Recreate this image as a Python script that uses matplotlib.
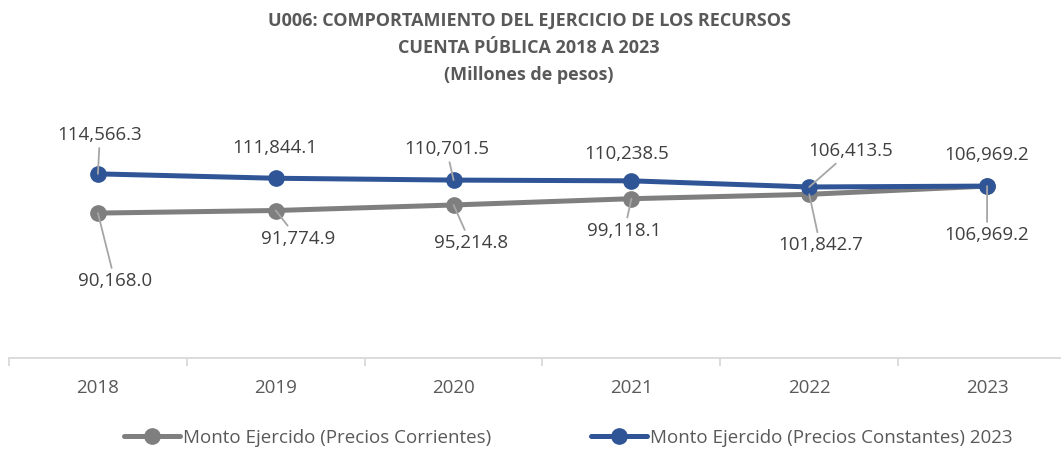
import matplotlib
matplotlib.use("Agg")
import matplotlib.pyplot as plt

years = ["2018", "2019", "2020", "2021", "2022", "2023"]
corrientes = [90168.0, 91774.9, 95214.8, 99118.1, 101842.7, 106969.2]
constantes = [114566.3, 111844.1, 110701.5, 110238.5, 106413.5, 106969.2]
name_corr = "Monto Ejercido (Precios Corrientes)"
name_const = "Monto Ejercido (Precios Constantes) 2023"
title = "U006: COMPORTAMIENTO DEL EJERCICIO DE LOS RECURSOS\nCUENTA PÚBLICA 2018 A 2023\n(Millones de pesos)"

# label offsets in pixels (dx, dy) and whether to draw a leader line
off_const = [(2, 39, True), (-1, 30, False), (-7, 31, True), (-5, 27, False), (41, 36, True), (0, 31, False)]
off_corr = [(17, -68, True), (22, -28, True), (17, -38, True), (-7, -32, True), (11, -51, True), (0, -49, True)]

plt.rcParams['font.family'] = ['Open Sans', 'DejaVu Sans']
BLUE = "#2F5597"
GRAY = "#7F7F7F"
TXT = "#404040"

fig = plt.figure(figsize=(10.61, 4.5), dpi=100)
ax = fig.add_axes([9/1061, 92/450, 1067/1061, 225/450])
x = list(range(len(years)))
ax.plot(x, corrientes, color=GRAY, lw=3.6, marker='o', ms=11, label=name_corr, solid_capstyle='round', zorder=3)
ax.plot(x, constantes, color=BLUE, lw=3.6, marker='o', ms=11, label=name_const, solid_capstyle='round', zorder=4)
ax.set_xlim(-0.5, len(years) - 0.5)
ax.set_ylim(0, 140000)
for s in ['top', 'right', 'left']:
    ax.spines[s].set_visible(False)
ax.spines['bottom'].set_color('#D9D9D9')
ax.spines['bottom'].set_linewidth(1.3)
ax.set_yticks([])
ax.set_xticks(x)
ax.set_xticklabels(years)
ax.tick_params(axis='x', which='major', length=0, pad=15, labelsize=13.5, labelcolor='#595959')
ax.set_xticks([i + 0.5 for i in range(-1, len(years))], minor=True)
ax.tick_params(axis='x', which='minor', length=6, width=1.3, color='#D9D9D9', direction='out')

def lab(xi, v, off):
    dx, dy, lead = off
    txt = f"{v:,.1f}"
    ap = dict(arrowstyle='-', color='#A6A6A6', lw=1.3, shrinkA=1, shrinkB=0) if lead else None
    ax.annotate(txt, xy=(xi, v), xytext=(dx, dy), textcoords='offset pixels',
                ha='center', va='center', fontsize=13.5, color=TXT, arrowprops=ap, zorder=5,
                annotation_clip=False)

for i in x:
    lab(i, constantes[i], off_const[i])
    lab(i, corrientes[i], off_corr[i])

fig.text(529/1061, 1 - 48/450, title, ha='center', va='center', fontsize=13,
         fontweight='bold', color='#595959', linespacing=1.63)

fig.legend(loc='center', bbox_to_anchor=(568/1061, 12/450), ncol=2, frameon=False,
           fontsize=13.5, handlelength=3.0, handletextpad=0.15, columnspacing=5.3,
           labelcolor='#595959', borderpad=0.2)

fig.savefig("out.png", dpi=100)
